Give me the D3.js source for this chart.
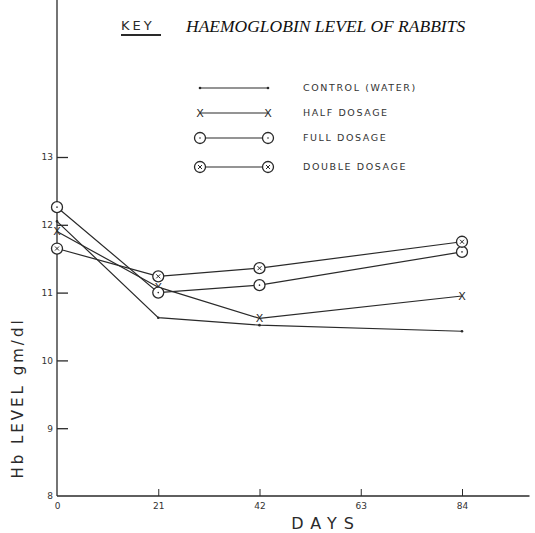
<!DOCTYPE html>
<html>
<head>
<meta charset="utf-8">
<script src="https://cdn.jsdelivr.net/npm/d3@7"></script>
<style>
  body { margin: 0; background: #fff; }
  svg { display: block; }
</style>
</head>
<body>
<div id="chart"></div>
<script>
// data
const days = [0, 21, 42, 84];
const control = [12.05, 10.63, 10.52, 10.43];
const halfDose = [11.9, 11.08, 10.62, 10.95];
const fullDose = [12.26, 11.0, 11.11, 11.6];
const doubleDose = [11.65, 11.24, 11.36, 11.75];
const xTicks = [0, 21, 42, 63, 84];
const yTicks = [8, 9, 10, 11, 12, 13];
const legendLabels = ['CONTROL (WATER)', 'HALF DOSAGE', 'FULL DOSAGE', 'DOUBLE DOSAGE'];

const W = 535, H = 533;
const ink = '#2a2a2a';

const svg = d3.select('#chart').append('svg')
    .attr('width', W)
    .attr('height', H)
    .style('background', '#fff');

// scales
const x = d3.scaleLinear().domain([0, 84]).range([57, 462]);
const y = d3.scaleLinear().domain([8, 13]).range([496, 157]);

// axes
const yAxis = svg.append('g')
    .attr('transform', `translate(${x(0)},0)`)
    .call(d3.axisLeft(y).tickValues(yTicks).tickSize(-11).tickPadding(4).tickFormat(d3.format('d')));
yAxis.select('.domain').remove();
yAxis.selectAll('line').attr('stroke', ink).attr('stroke-width', 1.3);
yAxis.selectAll('text').style('font-family', 'DejaVu Sans').style('font-size', '9px').attr('fill', '#333');
yAxis.selectAll('.tick').filter(d => d === 8).select('line').remove();

const xAxis = svg.append('g')
    .attr('transform', `translate(0,${y(8)})`)
    .call(d3.axisBottom(x).tickValues(xTicks).tickSize(-7).tickPadding(7).tickFormat(d3.format('d')));
xAxis.select('.domain').remove();
xAxis.selectAll('line').attr('stroke', ink).attr('stroke-width', 1);
xAxis.selectAll('.tick').filter(d => d === 0).select('line').remove();
xAxis.selectAll('text').style('font-family', 'DejaVu Sans').style('font-size', '9px').attr('fill', '#333');

// long axis lines like the hand drawn frame
svg.append('line')
    .attr('x1', x(0)).attr('x2', x(0))
    .attr('y1', y(8)).attr('y2', 0)
    .attr('stroke', ink).attr('stroke-width', 1.3);
svg.append('line')
    .attr('x1', x(0)).attr('x2', x(98))
    .attr('y1', y(8)).attr('y2', y(8))
    .attr('stroke', ink).attr('stroke-width', 1.5);

// series
const series = [
    { name: legendLabels[0], values: control, marker: 'dot' },
    { name: legendLabels[1], values: halfDose, marker: 'x' },
    { name: legendLabels[2], values: fullDose, marker: 'circle' },
    { name: legendLabels[3], values: doubleDose, marker: 'circleCross' }
];

const line = d3.line()
    .x((d, i) => x(days[i]))
    .y(d => y(d));

function drawMarker(g, type, cx, cy) {
    if (type === 'dot') {
        g.append('circle').attr('cx', cx).attr('cy', cy).attr('r', 1.3).attr('fill', ink);
    } else if (type === 'x') {
        g.append('text').attr('x', cx).attr('y', cy).attr('dy', '0.35em')
            .attr('text-anchor', 'middle')
            .style('font-family', 'DejaVu Sans').style('font-size', '11px')
            .attr('fill', ink).text('X');
    } else if (type === 'circle') {
        g.append('circle').attr('cx', cx).attr('cy', cy).attr('r', 5.5)
            .attr('fill', '#fff').attr('stroke', ink).attr('stroke-width', 1.3);
        g.append('circle').attr('cx', cx).attr('cy', cy).attr('r', 0.8).attr('fill', ink);
    } else {
        g.append('circle').attr('cx', cx).attr('cy', cy).attr('r', 5.5)
            .attr('fill', '#fff').attr('stroke', ink).attr('stroke-width', 1.3);
        g.append('path')
            .attr('d', `M${cx - 2},${cy - 2}L${cx + 2},${cy + 2}M${cx + 2},${cy - 2}L${cx - 2},${cy + 2}`)
            .attr('stroke', ink).attr('stroke-width', 1);
    }
}

series.forEach(s => {
    svg.append('path')
        .datum(s.values)
        .attr('fill', 'none')
        .attr('stroke', ink)
        .attr('stroke-width', 1.2)
        .attr('d', line);
});
series.forEach(s => {
    const g = svg.append('g');
    s.values.forEach((v, i) => drawMarker(g, s.marker, x(days[i]), y(v)));
});

// title + key
svg.append('text')
    .attr('x', 121).attr('y', 30)
    .style('font-family', 'DejaVu Sans').style('font-size', '13px')
    .style('letter-spacing', '3px')
    .attr('fill', ink)
    .text('KEY');
svg.append('line')
    .attr('x1', 121).attr('x2', 161).attr('y1', 35).attr('y2', 35)
    .attr('stroke', ink).attr('stroke-width', 2);
svg.append('text')
    .attr('x', 186).attr('y', 32)
    .style('font-family', 'Liberation Serif').style('font-size', '17.5px')
    .style('font-style', 'italic')
    .attr('fill', '#111')
    .text('HAEMOGLOBIN LEVEL OF RABBITS');

// legend
const legend = svg.append('g');
const legendY = [88, 113, 138, 167];
series.forEach((s, i) => {
    const ly = legendY[i];
    legend.append('line')
        .attr('x1', 200).attr('x2', 268).attr('y1', ly).attr('y2', ly)
        .attr('stroke', ink).attr('stroke-width', 1.2);
    drawMarker(legend, s.marker, 200, ly);
    drawMarker(legend, s.marker, 268, ly);
    legend.append('text')
        .attr('x', 303).attr('y', ly).attr('dy', '0.35em')
        .style('font-family', 'DejaVu Sans').style('font-size', '9.5px')
        .style('letter-spacing', '1.6px')
        .attr('fill', '#333')
        .text(s.name);
});

// axis titles
svg.append('text')
    .attr('transform', 'translate(23,398) rotate(-90)')
    .attr('text-anchor', 'middle')
    .style('font-family', 'DejaVu Sans').style('font-size', '15px')
    .style('letter-spacing', '3px')
    .attr('fill', ink)
    .text('Hb LEVEL gm/dl');
svg.append('text')
    .attr('x', 326).attr('y', 529)
    .attr('text-anchor', 'middle')
    .style('font-family', 'DejaVu Sans').style('font-size', '16px')
    .style('letter-spacing', '7px')
    .attr('fill', ink)
    .text('DAYS');
</script>
</body>
</html>
